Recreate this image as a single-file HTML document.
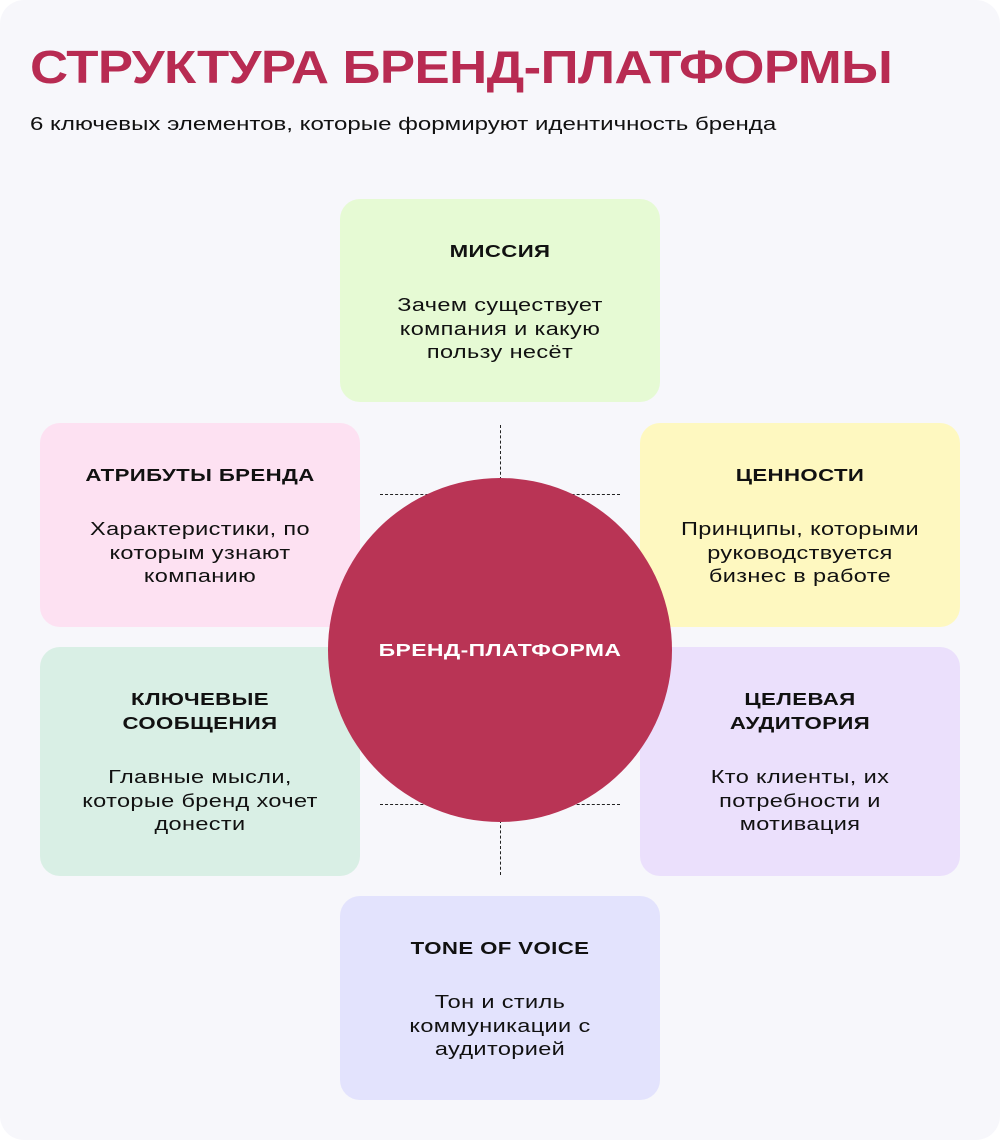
<!DOCTYPE html>
<html><head><meta charset="utf-8"><style>
*{margin:0;padding:0;box-sizing:border-box}
body{width:1000px;height:1140px;background:#fff;font-family:"Liberation Sans","DejaVu Sans",sans-serif;position:relative;overflow:hidden}
.bg{position:absolute;left:0;top:0;width:1000px;height:1140px;background:#f7f7fb;border-radius:24px}
.t{position:absolute;left:30px;top:40px;font-size:46px;font-weight:bold;color:#b82b52;white-space:nowrap;transform-origin:left top;transform:scaleX(1.147);letter-spacing:-0.5px}
.s{position:absolute;left:30px;top:113px;font-size:18.5px;color:#111;white-space:nowrap;transform-origin:left top;transform:scaleX(1.3)}
.c{position:absolute;width:320px;border-radius:20px;text-align:center;color:#111}
.c h{display:block;position:absolute;left:0;right:0;font-weight:bold;font-size:17.5px;line-height:24px;letter-spacing:0.3px;transform:scaleX(1.27)}
.c p{position:absolute;left:0;right:0;font-size:18.5px;line-height:23.5px;letter-spacing:0.3px;transform:scaleX(1.27)}
.dv{position:absolute;width:0;border-left:1.3px dashed #222}
.dh{position:absolute;height:0;border-top:1.3px dashed #222}
.circ{position:absolute;left:328px;top:478px;width:344px;height:344px;border-radius:50%;background:#b93455}
.circ span{display:block;color:#fff;font-weight:bold;font-size:17.5px;line-height:344px;text-align:center;letter-spacing:0.3px;transform:scaleX(1.31)}
</style></head><body>
<div class="bg"></div>
<div class="t">СТРУКТУРА БРЕНД-ПЛАТФОРМЫ</div>
<div class="s">6 ключевых элементов, которые формируют идентичность бренда</div>

<div class="dv" style="left:500px;top:425px;height:55px"></div>
<div class="dv" style="left:500px;top:820px;height:55px"></div>
<div class="dh" style="left:380px;top:494px;width:240px"></div>
<div class="dh" style="left:380px;top:804px;width:240px"></div>

<div class="c" style="left:340px;top:199px;height:203px;background:#e6fad4">
<h style="top:40px">МИССИЯ</h>
<p style="top:94px">Зачем существует<br>компания и какую<br>пользу несёт</p></div>

<div class="c" style="left:40px;top:423px;height:204px;background:#fde1f2">
<h style="top:40px">АТРИБУТЫ БРЕНДА</h>
<p style="top:94px">Характеристики, по<br>которым узнают<br>компанию</p></div>

<div class="c" style="left:640px;top:423px;height:204px;background:#fef8c0">
<h style="top:40px">ЦЕННОСТИ</h>
<p style="top:94px">Принципы, которыми<br>руководствуется<br>бизнес в работе</p></div>

<div class="c" style="left:40px;top:647px;height:229px;background:#d9efe5">
<h style="top:40px">КЛЮЧЕВЫЕ<br>СООБЩЕНИЯ</h>
<p style="top:118px">Главные мысли,<br>которые бренд хочет<br>донести</p></div>

<div class="c" style="left:640px;top:647px;height:229px;background:#ebe0fc">
<h style="top:40px">ЦЕЛЕВАЯ<br>АУДИТОРИЯ</h>
<p style="top:118px">Кто клиенты, их<br>потребности и<br>мотивация</p></div>

<div class="c" style="left:340px;top:896px;height:204px;background:#e3e3fd">
<h style="top:40px">TONE OF VOICE</h>
<p style="top:94px">Тон и стиль<br>коммуникации с<br>аудиторией</p></div>

<div class="circ"><span>БРЕНД-ПЛАТФОРМА</span></div>
</body></html>
